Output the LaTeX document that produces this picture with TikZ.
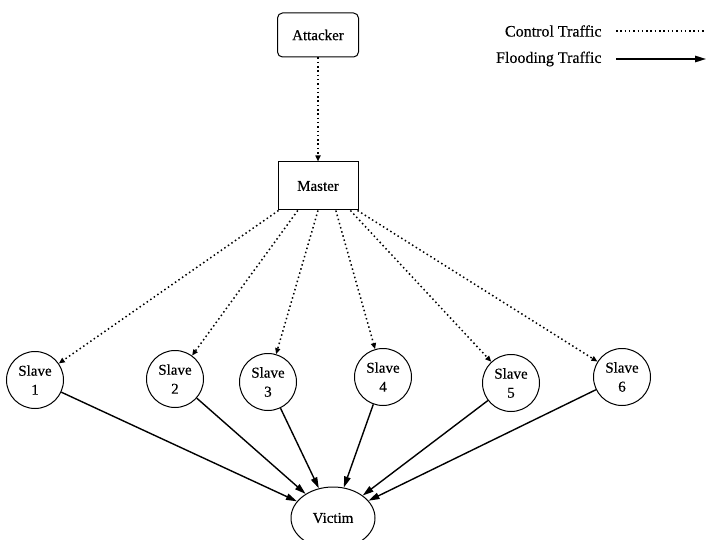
\documentclass[tikz,border=0pt]{standalone}
\usepackage{fontspec}
\setmainfont[FakeBold=0.4]{Liberation Serif}
\usetikzlibrary{arrows.meta,shapes.geometric,calc}
\begin{document}
\begin{tikzpicture}[x=1pt,y=-1pt,
  font=\fontsize{15}{19}\selectfont,
  ctrl/.style={line width=1.5pt, dash pattern=on 1.5pt off 2.8pt, -{Triangle[length=6pt,width=5pt]}},
  flood/.style={line width=1.4pt, -{Triangle[length=11pt,width=6.5pt]}},
  roundbox/.style={draw, line width=1pt, rounded corners=5pt, minimum width=81pt, minimum height=44pt},
  sqbox/.style={draw, line width=1pt, minimum width=80pt, minimum height=48pt},
  slavenode/.style={draw, circle, line width=1pt, minimum size=57pt, inner sep=0pt, align=center},
  victimnode/.style={draw, ellipse, line width=1pt, minimum width=84pt, minimum height=62pt},
  legendtext/.style={anchor=east, font=\fontsize{16}{19}\selectfont}]
\useasboundingbox (0,0) rectangle (707,540);

% control hierarchy
\node[roundbox] (att) at (318,35) {Attacker};
\node[sqbox] (mst) at (318,186) {Master};

% slave hosts
\node[slavenode] (s1) at (35,380) {Slave\\1};
\node[slavenode] (s2) at (175,379) {Slave\\2};
\node[slavenode] (s3) at (268,382) {Slave\\3};
\node[slavenode] (s4) at (383,377) {Slave\\4};
\node[slavenode] (s5) at (511,383) {Slave\\5};
\node[slavenode] (s6) at (622,377) {Slave\\6};

% target
\node[victimnode] (vic) at (333,518) {Victim};

% departure points along the bottom of the master box
\coordinate (m1) at ($(mst.south west)+(1,0)$);
\coordinate (m2) at ($(mst.south west)!0.25!(mst.south east)$);
\coordinate (m3) at ($(mst.south west)!0.5!(mst.south east)$);
\coordinate (m4) at ($(mst.south west)!0.72!(mst.south east)$);
\coordinate (m5) at ($(mst.south west)!0.9!(mst.south east)$);
\coordinate (m6) at ($(mst.south east)+(-1,0)$);

% control traffic
\draw[ctrl] (att) -- (mst);
\draw[ctrl] (m1) -- (s1);
\draw[ctrl] (m2) -- (s2);
\draw[ctrl] (m3) -- (s3);
\draw[ctrl] (m4) -- (s4);
\draw[ctrl] (m5) -- (s5);
\draw[ctrl] (m6) -- (s6);

% flooding traffic
\foreach \s in {s1,s2,s3,s4,s5,s6}
  \draw[flood] (\s) -- (vic);

% legend
\node[legendtext] (lc) at (605,31) {Control Traffic};
\node[legendtext] (lf) at (605,59) {Flooding Traffic};
\coordinate (lc1) at (616,31);
\coordinate (lc2) at (706,31);
\coordinate (lf1) at (616,59);
\coordinate (lf2) at (706,59);
\draw[line width=1.5pt, dash pattern=on 1.5pt off 2.8pt] (lc1) -- (lc2);
\draw[flood] (lf1) -- (lf2);
\end{tikzpicture}
\end{document}
